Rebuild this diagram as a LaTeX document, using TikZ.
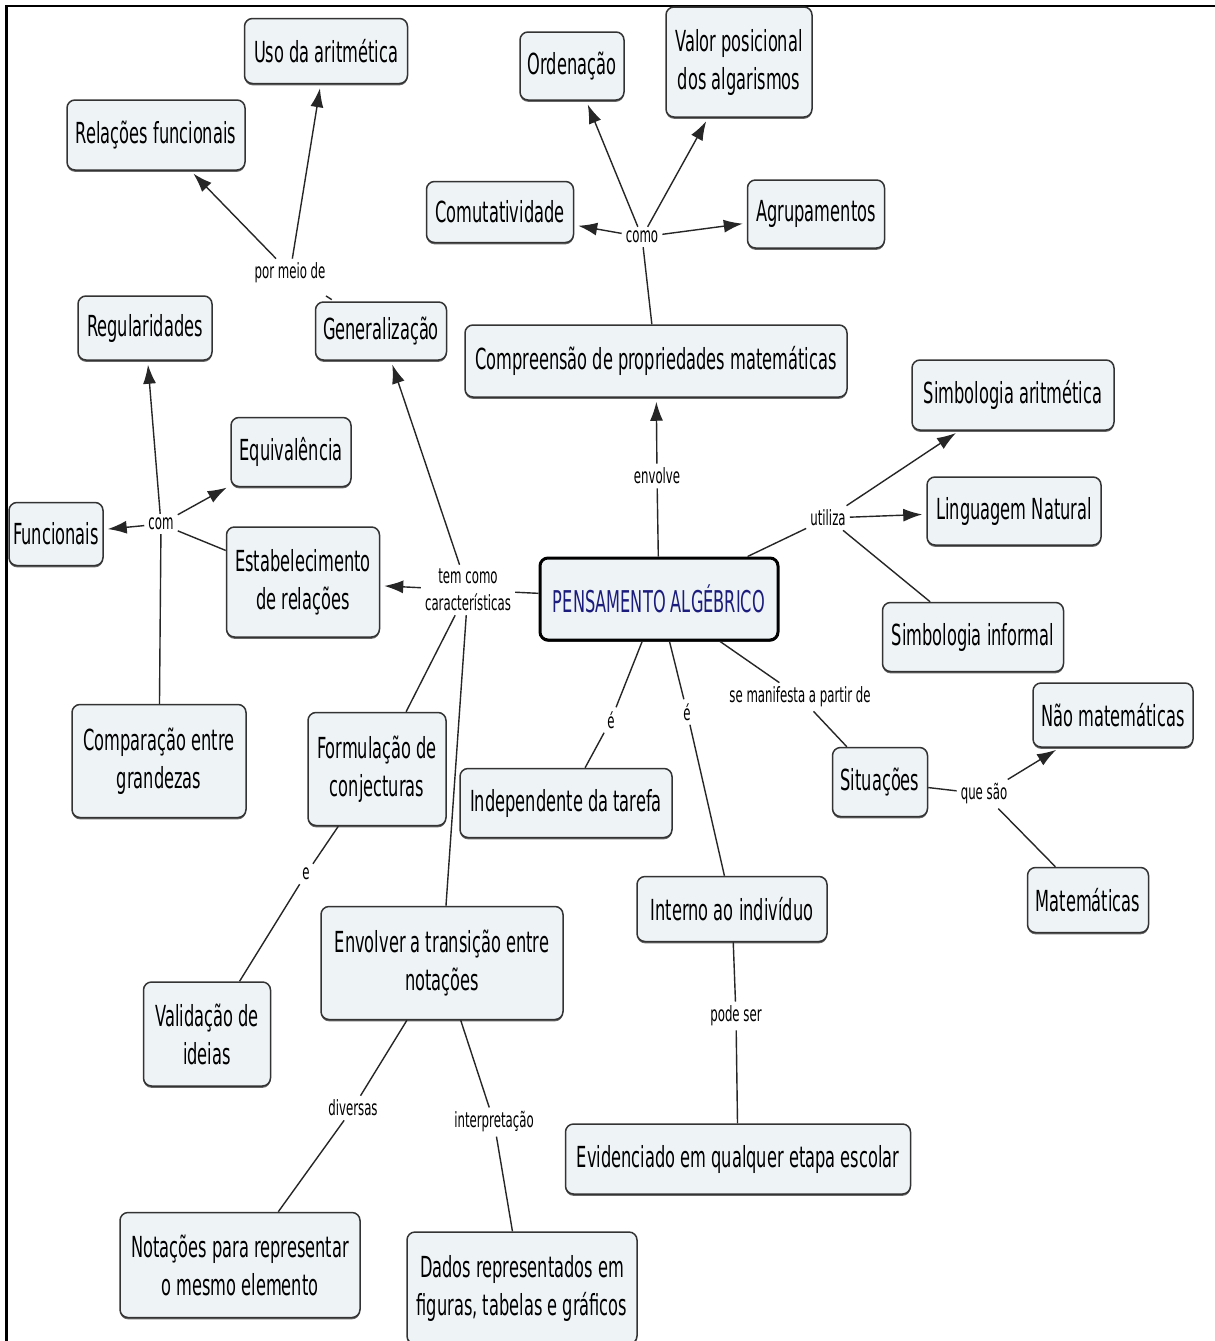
\documentclass[tikz,border=0pt]{standalone}
\usepackage{fontspec}
\setmainfont{DejaVu Sans}[FakeStretch=0.56]
\newfontfamily\centralfont{DejaVu Sans}[FakeStretch=0.54]
\usetikzlibrary{arrows.meta,shadows}
\definecolor{boxfill}{RGB}{238,243,246}
\definecolor{navyblue}{RGB}{28,28,125}
\tikzset{
  concept/.style={draw=black!80, line width=1.5pt, fill=boxfill, rounded corners=8pt,
    align=center, font=\fontsize{29}{38}\selectfont, inner sep=0pt,
    general shadow={fill=black!60, shadow yshift=-1.8pt}},
  central/.style={concept, line width=3pt, draw=black, text=navyblue, font=\centralfont\fontsize{30}{38}\selectfont},
  link/.style={font=\fontsize{21}{27}\selectfont, align=center, inner sep=4pt},
  conn/.style={line width=1.4pt, draw=black!85},
  arr/.style={conn, -{Latex[length=19pt,width=13pt]}, shorten >=4pt},
}
\begin{document}
\begin{tikzpicture}[x=1pt,y=-1pt]
\useasboundingbox (0,0) rectangle (1215,1341);
\fill[white] (0,0) rectangle (1215,1341);
\draw[line width=2.5pt] (6.5,1341) -- (6.5,6) -- (1215,6);

% concepts
\node[concept, minimum width=163pt, minimum height=65pt] (uso) at (326,51) {Uso da aritmética};
\node[concept, minimum width=178pt, minimum height=70pt] (relf) at (156,135) {Relações funcionais};
\node[concept, minimum width=134pt, minimum height=64pt] (reg) at (145,328) {Regularidades};
\node[concept, minimum width=131pt, minimum height=58pt] (gen) at (381,331) {Generalização};
\node[concept, minimum width=104pt, minimum height=68pt] (ord) at (572,66) {Ordenação};
\node[concept, minimum width=146pt, minimum height=110pt] (valor) at (739,62) {Valor posicional\\dos algarismos};
\node[concept, minimum width=147pt, minimum height=61pt] (comut) at (500,212) {Comutatividade};
\node[concept, minimum width=137pt, minimum height=68pt] (agrup) at (816,214) {Agrupamentos};
\node[concept, minimum width=382pt, minimum height=72pt] (comp) at (656,361) {Compreensão de propriedades matemáticas};
\node[central, minimum width=238pt, minimum height=82pt] (pens) at (659,599) {PENSAMENTO ALGÉBRICO};
\node[concept, minimum width=202pt, minimum height=70pt] (simba) at (1013,395) {Simbologia aritmética};
\node[concept, minimum width=174pt, minimum height=68pt] (ling) at (1014,511) {Linguagem Natural};
\node[concept, minimum width=181pt, minimum height=69pt] (simbi) at (973,637) {Simbologia informal};
\node[concept, minimum width=160pt, minimum height=64pt] (naomat) at (1113,715) {Não matemáticas};
\node[concept, minimum width=95pt, minimum height=69pt] (sit) at (880,782) {Situações};
\node[concept, minimum width=121pt, minimum height=65pt] (mat) at (1088,900) {Matemáticas};
\node[concept, minimum width=212pt, minimum height=69pt] (indep) at (566,803) {Independente da tarefa};
\node[concept, minimum width=190pt, minimum height=65pt] (interno) at (732,909) {Interno ao indivíduo};
\node[concept, minimum width=345pt, minimum height=70pt] (evid) at (738,1159) {Evidenciado em qualquer etapa escolar};
\node[concept, minimum width=94pt, minimum height=63pt] (func) at (56,534) {Funcionais};
\node[concept, minimum width=120pt, minimum height=69pt] (equiv) at (291,452) {Equivalência};
\node[concept, minimum width=153pt, minimum height=110pt] (estab) at (303,582) {Estabelecimento\\de relações};
\node[concept, minimum width=174pt, minimum height=113pt] (compar) at (159,761) {Comparação entre\\grandezas};
\node[concept, minimum width=138pt, minimum height=113pt] (form) at (377,769) {Formulação de\\conjecturas};
\node[concept, minimum width=127pt, minimum height=104pt] (valid) at (207,1034) {Validação de\\ideias};
\node[concept, minimum width=242pt, minimum height=113pt] (envol) at (442,963) {Envolver a transição entre\\notações};
\node[concept, minimum width=240pt, minimum height=105pt] (notac) at (240,1265) {Notações para representar\\o mesmo elemento};
\node[concept, minimum width=230pt, minimum height=112pt] (dados) at (522,1288) {Dados representados em\\figuras, tabelas e gráficos};

% linking phrases
\node[link] (pormeio) at (290,273) {por meio de};
\node[link] (como) at (642,237) {como};
\node[link] (envolve) at (657,476) {envolve};
\node[link] (utiliza) at (828,518) {utiliza};
\node[link] (temcomo) at (468,590) {tem como\\características};
\node[link] (com) at (161,524) {com};
\node[link] (eA) at (611,720) {é};
\node[link] (eB) at (687,712) {é};
\node[link] (seman) at (800,697) {se manifesta a partir de};
\node[link] (quesao) at (984,794) {que são};
\node[link] (podeser) at (736,1016) {pode ser};
\node[link] (elab) at (306,874) {e};
\node[link] (diversas) at (353,1108) {diversas};
\node[link] (interp) at (494,1122) {interpretação};

% connectors
\draw[conn, shorten >=16pt, shorten <=3pt] (gen) -- (pormeio);
\draw[arr] (pormeio) -- (relf);
\draw[arr] (pormeio) -- (uso);
\draw[conn] (comp) -- (como);
\draw[arr] (como) -- (ord);
\draw[arr] (como) -- (valor);
\draw[arr] (como) -- (comut);
\draw[arr] (como) -- (agrup);
\draw[conn] (pens) -- (envolve);
\draw[arr] (envolve) -- (comp);
\draw[conn] (pens) -- (utiliza);
\draw[arr] (utiliza) -- (simba);
\draw[arr] (utiliza) -- (ling);
\draw[conn] (utiliza) -- (simbi);
\draw[conn] (pens) -- (temcomo);
\draw[arr] (temcomo) -- (estab);
\draw[arr] (temcomo) -- (gen);
\draw[conn] (temcomo) -- (form);
\draw[conn] (temcomo) -- (envol);
\draw[conn] (estab) -- (com);
\draw[arr] (com) -- (func);
\draw[arr] (com) -- (equiv);
\draw[arr] (com) -- (reg);
\draw[conn] (com) -- (compar);
\draw[conn] (pens) -- (eA);
\draw[conn] (eA) -- (indep);
\draw[conn] (pens) -- (eB);
\draw[conn] (eB) -- (interno);
\draw[conn] (interno) -- (podeser);
\draw[conn] (podeser) -- (evid);
\draw[conn] (pens) -- (seman);
\draw[conn] (seman) -- (sit);
\draw[conn] (sit) -- (quesao);
\draw[arr] (quesao) -- (naomat);
\draw[conn] (quesao) -- (mat);
\draw[conn] (form) -- (elab);
\draw[conn] (elab) -- (valid);
\draw[conn] (envol) -- (diversas);
\draw[conn] (diversas) -- (notac);
\draw[conn] (envol) -- (interp);
\draw[conn] (interp) -- (dados);
\end{tikzpicture}
\end{document}
